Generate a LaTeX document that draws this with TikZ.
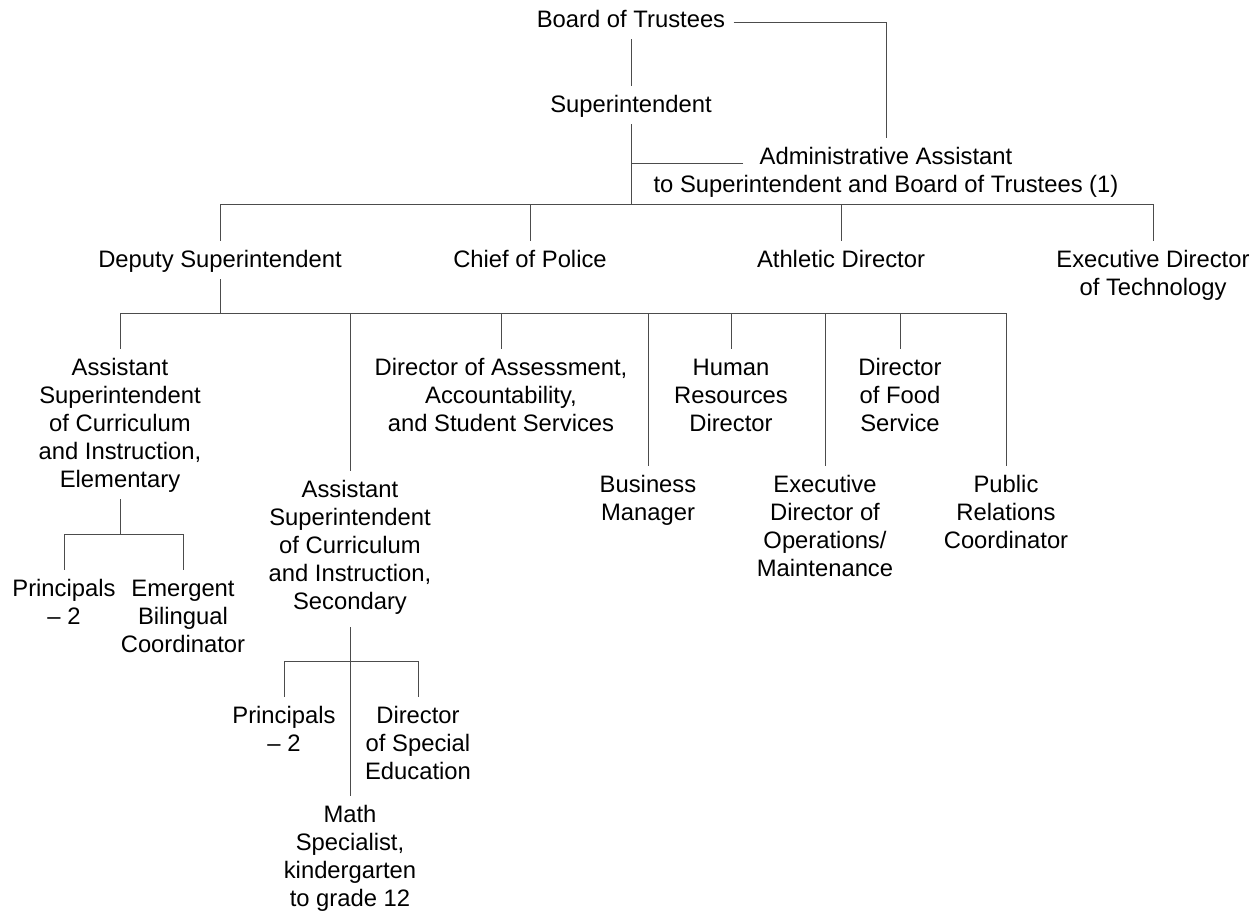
\documentclass[tikz,border=0pt]{standalone}
\usepackage{fontspec}
\setmainfont{Liberation Sans}

\tikzset{
  post/.style={align=center, anchor=base, inner xsep=4pt, inner ysep=3pt,
    text height=10.5pt, text depth=2.5pt, font=\fontsize{11.9pt}{14pt}\selectfont},
  two lines/.style={text height=24.5pt},
  three lines/.style={text height=38.5pt},
  four lines/.style={text height=52.5pt},
  five lines/.style={text height=66.5pt},
  wire/.style={draw=black!70, line width=0.5pt}
}

\begin{document}
\begin{tikzpicture}[x=0.5pt, y=-0.5pt]
       \useasboundingbox (0,0) rectangle (1260,913);

       % top of the chart
       \node[post] (board) at (631,28) {Board of Trustees};
       \node[post] (super) at (631,113) {Superintendent};
       \node[post, two lines] (admin) at (886,193) {Administrative Assistant\\to Superintendent and Board of Trustees (1)};

       % second row
       \node[post] (deputy) at (220,268) {Deputy Superintendent};
       \node[post] (police) at (530,268) {Chief of Police};
       \node[post] (athletic) at (841,268) {Athletic Director};
       \node[post, two lines] (tech) at (1153,296) {Executive Director\\of Technology};

       % under the deputy
       \node[post, five lines] (elem) at (120,488) {Assistant\\Superintendent\\of Curriculum\\and Instruction,\\Elementary};
       \node[post, three lines] (assess) at (501,432) {Director of Assessment,\\Accountability,\\and Student Services};
       \node[post, three lines] (hr) at (731,432) {Human\\Resources\\Director};
       \node[post, three lines] (food) at (900,432) {Director\\of Food\\Service};
       \node[post, five lines] (second) at (350,610) {Assistant\\Superintendent\\of Curriculum\\and Instruction,\\Secondary};
       \node[post, two lines] (business) at (648,521) {Business\\Manager};
       \node[post, four lines] (ops) at (825,577) {Executive\\Director of\\Operations/\\Maintenance};
       \node[post, three lines] (pr) at (1006,549) {Public\\Relations\\Coordinator};

       % elementary
       \node[post, two lines] (elemprin) at (64,625) {Principals\\– 2};
       \node[post, three lines] (bilingual) at (183,653) {Emergent\\Bilingual\\Coordinator};

       % secondary
       \node[post, two lines] (secprin) at (284,752) {Principals\\– 2};
       \node[post, three lines] (sped) at (418,780) {Director\\of Special\\Education};
       \node[post, four lines] (math) at (350,907) {Math\\Specialist,\\kindergarten\\to grade 12};

       % connectors
       \coordinate (top bus) at (631,205);
       \coordinate (admin in) at (743,164);
       \draw[wire] (board.south) -- (super.north);
       \draw[wire] (board.mid east) -| (admin.north);
       \draw[wire] (super.south) -- (top bus);
       \draw[wire] (admin in) -- (admin in -| super.south);
       \foreach \n in {deputy,police,athletic,tech}
         \draw[wire] (\n.north) |- (top bus);

       \coordinate (dep bus) at (220,314);
       \draw[wire] (deputy.south) -- (dep bus);
       \foreach \n in {elem,assess,hr,food,second,business,ops,pr}
         \draw[wire] (\n.north) |- (dep bus);

       \coordinate (elem bus) at (120,535);
       \draw[wire] (elem.south) -- (elem bus);
       \foreach \n in {elemprin,bilingual}
         \draw[wire] (\n.north) |- (elem bus);

       \coordinate (sec bus) at (350,662);
       \draw[wire, shorten <=3pt] (second.south) -- (math.north);
       \foreach \n in {secprin,sped}
         \draw[wire] (\n.north) |- (sec bus);

\end{tikzpicture}
\end{document}
